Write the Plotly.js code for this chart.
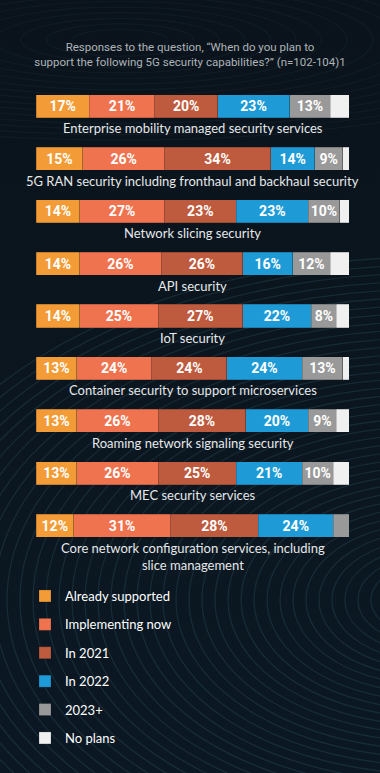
<!DOCTYPE html>
<html>
<head>
<meta charset="utf-8">
<script src="https://cdn.plot.ly/plotly-3.0.1.min.js"></script>
<style>
html,body{margin:0;padding:0;background:#0a1520;}
#chart{width:380px;height:773px;}
</style>
</head>
<body>
<div id="chart"></div>
<script>
const categories = [
  "Enterprise mobility managed security services",
  "5G RAN security including fronthaul and backhaul security",
  "Network slicing security",
  "API security",
  "IoT security",
  "Container security to support microservices",
  "Roaming network signaling security",
  "MEC security services",
  "Core network configuration services, including<br>slice management"
];
const seriesNames = ["Already supported", "Implementing now", "In 2021", "In 2022", "2023+", "No plans"];
const alreadySupported = [17, 15, 14, 14, 14, 13, 13, 13, 12];
const implementingNow  = [21, 26, 27, 26, 25, 24, 26, 26, 31];
const in2021           = [20, 34, 23, 26, 27, 24, 28, 25, 28];
const in2022           = [23, 14, 23, 16, 22, 24, 20, 21, 24];
const y2023plus        = [13, 9, 10, 12, 8, 13, 9, 10, 5];
const noPlans          = [6, 2, 3, 6, 4, 2, 4, 5, 0];
const labels2023plus   = ["13%", "9%", "10%", "12%", "8%", "13%", "9%", "10%", ""];
const colors = ["#F39C37", "#F07350", "#BE5A3D", "#1E9BD6", "#999999", "#F0F0F0"];

const seriesValues = [alreadySupported, implementingNow, in2021, in2022, y2023plus, noPlans];
const seriesText = [
  alreadySupported.map(v => v + "%"),
  implementingNow.map(v => v + "%"),
  in2021.map(v => v + "%"),
  in2022.map(v => v + "%"),
  labels2023plus,
  noPlans.map(() => "")
];

const traces = seriesValues.map((vals, i) => ({
  type: "bar",
  orientation: "h",
  name: seriesNames[i],
  legendgroup: "g" + i,
  x: vals,
  y: categories,
  width: 0.44,
  text: seriesText[i],
  textposition: "inside",
  insidetextanchor: "middle",
  textangle: 0,
  constraintext: "none",
  textfont: {family: "Roboto, sans-serif", size: 14, color: "#ffffff", weight: "bold"},
  marker: {color: colors[i], line: {color: "rgba(20,20,20,0.35)", width: 0.6}},
  hoverinfo: "skip"
}));

const annotations = categories.map(c => ({
  x: 50, y: c, xref: "x", yref: "y",
  text: c, showarrow: false,
  yanchor: "top", yshift: -12,
  font: {family: "Lato, Noto Sans, sans-serif", size: 13, color: "#e6e8ea"},
  align: "center"
}));

// decorative swirl background (not data)
const W = 380, H = 773, M = {l: 36, r: 31, t: 80, b: 221};
let svg = '<svg xmlns="http://www.w3.org/2000/svg" width="380" height="773" viewBox="0 0 380 773">' +
  '<defs><linearGradient id="g" x1="0" y1="0" x2="0" y2="1"><stop offset="0" stop-color="#0a131b"/><stop offset="1" stop-color="#0b1823"/></linearGradient></defs>' +
  '<rect width="380" height="773" fill="url(#g)"/>';
for (let r = 20; r < 560; r += 13) {
  svg += '<ellipse cx="430" cy="600" rx="' + r + '" ry="' + (r * 0.62) + '" fill="none" stroke="rgba(70,120,130,0.22)" stroke-width="1.3"/>';
}
for (let r = 30; r < 300; r += 16) {
  svg += '<ellipse cx="120" cy="40" rx="' + (r * 1.6) + '" ry="' + (r * 0.35) + '" fill="none" stroke="rgba(60,90,110,0.12)" stroke-width="1.2"/>';
}
svg += '</svg>';
const pw = W - M.l - M.r, ph = H - M.t - M.b;

const layout = {
  width: W, height: H,
  paper_bgcolor: "#0a1520",
  plot_bgcolor: "rgba(0,0,0,0)",
  margin: M,
  barmode: "stack",
  bargap: 0,
  images: [{
    source: "data:image/svg+xml;charset=utf-8," + encodeURIComponent(svg),
    xref: "paper", yref: "paper",
    x: -M.l / pw, y: 1 + M.t / ph,
    sizex: W / pw, sizey: H / ph,
    xanchor: "left", yanchor: "top",
    sizing: "stretch", layer: "below"
  }],
  title: {
    text: "Responses to the question, “When do you plan to<br>support the following 5G security capabilities?” (n=102-104)1",
    font: {family: "Roboto, sans-serif", size: 11.5, color: "#aeb3b8"},
    x: 0.5, xref: "container", xanchor: "center",
    y: 1 - 51/773, yref: "container", yanchor: "middle"
  },
  xaxis: {range: [0, 100], visible: false, fixedrange: true},
  yaxis: {type: "category", autorange: false, visible: false, fixedrange: true, range: [8.5, -0.5]},
  showlegend: true,
  legend: {
    xref: "paper", yref: "paper",
    x: -11/313, y: -29/472, xanchor: "left", yanchor: "top",
    orientation: "v", traceorder: "grouped", tracegroupgap: 8.5,
    font: {family: "Lato, Noto Sans, sans-serif", size: 13, color: "#ffffff"},
    bgcolor: "rgba(0,0,0,0)"
  },
  annotations: annotations,
  hovermode: false
};

Plotly.newPlot("chart", traces, layout, {staticPlot: true, displayModeBar: false});
</script>
</body>
</html>
